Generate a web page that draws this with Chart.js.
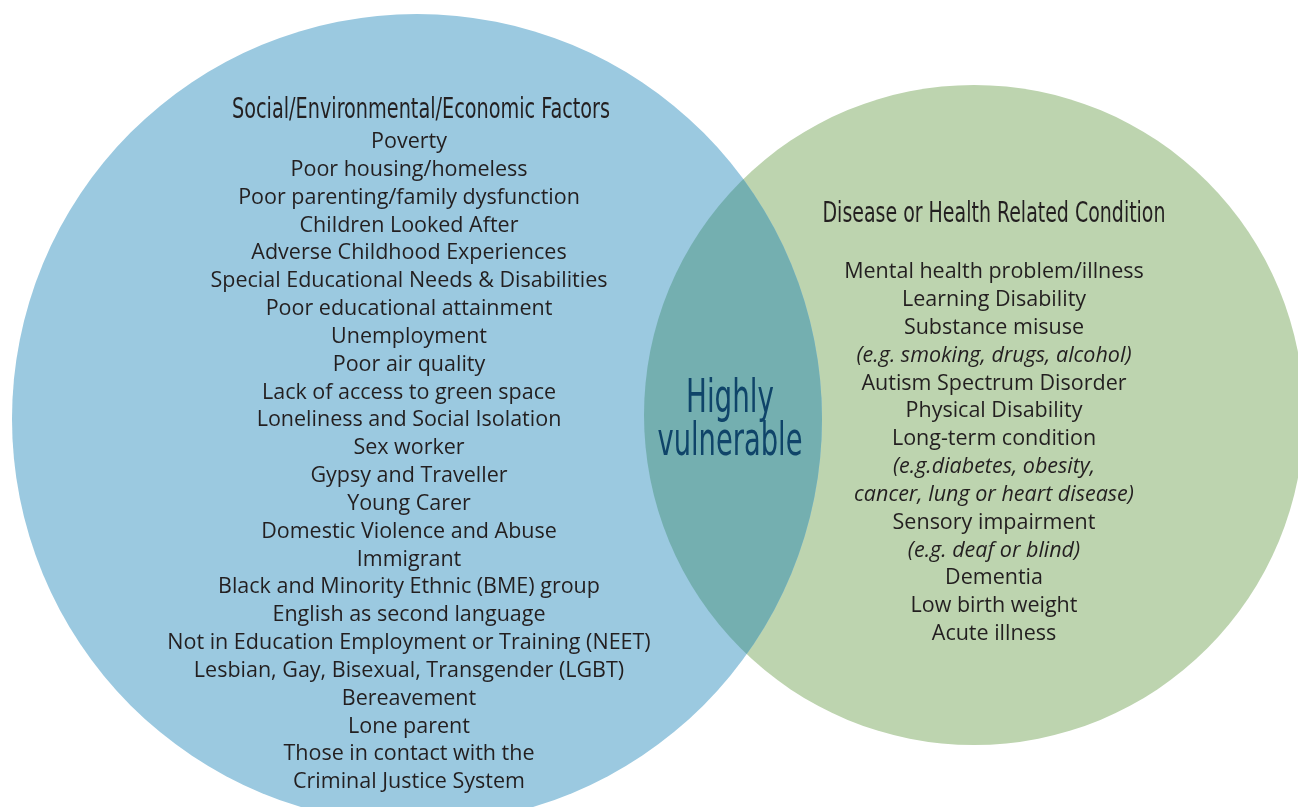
<!DOCTYPE html>
<html>
<head>
<meta charset="utf-8">
<script src="https://cdn.jsdelivr.net/npm/chart.js@4"></script>
<style>
  html, body { margin: 0; padding: 0; background: #fff; }
  #wrap { width: 1298px; height: 807px; position: relative; }
</style>
</head>
<body>
<div id="wrap"><canvas id="venn"></canvas></div>
<script>
// circles: centre and radius in picture units
const circleNames = ["Social/Environmental/Economic Factors", "Disease or Health Related Condition"]
const circleX = [417, 974]
const circleY = [419, 415]
const circleR = [405, 330]
const overlapLabel = ["Highly", "vulnerable"]

const socialFactors = [
    "Poverty",
    "Poor housing/homeless",
    "Poor parenting/family dysfunction",
    "Children Looked After",
    "Adverse Childhood Experiences",
    "Special Educational Needs & Disabilities",
    "Poor educational attainment",
    "Unemployment",
    "Poor air quality",
    "Lack of access to green space",
    "Loneliness and Social Isolation",
    "Sex worker",
    "Gypsy and Traveller",
    "Young Carer",
    "Domestic Violence and Abuse",
    "Immigrant",
    "Black and Minority Ethnic (BME) group",
    "English as second language",
    "Not in Education Employment or Training (NEET)",
    "Lesbian, Gay, Bisexual, Transgender (LGBT)",
    "Bereavement",
    "Lone parent",
    "Those in contact with the",
    "Criminal Justice System"
]

const healthConditions = [
    "Mental health problem/illness",
    "Learning Disability",
    "Substance misuse",
    "(e.g. smoking, drugs, alcohol)",
    "Autism Spectrum Disorder",
    "Physical Disability",
    "Long-term condition",
    "(e.g.diabetes, obesity,",
    "cancer, lung or heart disease)",
    "Sensory impairment",
    "(e.g. deaf or blind)",
    "Dementia",
    "Low birth weight",
    "Acute illness"
]
const healthItalic = [false, false, false, true, false, false, false, true, true, false, true, false, false, false]

const blue = "#9bc9e0", green = "#bdd4af", teal = "#74afb0"
const ink = "#231f20", navy = "#0f4469"
const titleFont = "500 28px 'Liberation Sans Narrow', 'DejaVu Sans Condensed', Roboto, sans-serif"
const bodyFont = "21.5px 'Open Sans', 'Noto Sans', sans-serif"
const italicFont = "italic 21.5px 'Open Sans', 'Noto Sans', sans-serif"
const bigFont = "46px 'Liberation Sans Narrow', 'DejaVu Sans Condensed', Roboto, sans-serif"

function px(chart, x, y){
    return [chart.scales.x.getPixelForValue(x), chart.scales.y.getPixelForValue(y)]
}

const overlapPlugin = {
    id: "overlap",
    afterDatasetsDraw(chart){
        const ctx = chart.ctx
        const a = chart.getDatasetMeta(0).data[0]
        const b = chart.getDatasetMeta(1).data[0]
        ctx.save()
        ctx.beginPath()
        ctx.arc(a.x, a.y, a.options.radius, 0, Math.PI * 2)
        ctx.clip()
        ctx.beginPath()
        ctx.arc(b.x, b.y, b.options.radius, 0, Math.PI * 2)
        ctx.fillStyle = teal
        ctx.fill()
        ctx.restore()
    }
}

const textPlugin = {
    id: "vennText",
    afterDraw(chart){
        const ctx = chart.ctx
        ctx.save()
        ctx.textAlign = "center"
        ctx.textBaseline = "middle"
        ctx.fillStyle = ink

        // left circle
        let [x, y] = px(chart, 421, 111)
        ctx.font = titleFont
        ctx.fillText(circleNames[0], x, y, 378)
        ctx.font = bodyFont
        socialFactors.forEach((s, i)=>{
            const p = px(chart, 409, 142 + i * 27.83)
            ctx.fillText(s, p[0], p[1])
        })

        // right circle
        ;[x, y] = px(chart, 994, 215)
        ctx.font = titleFont
        ctx.fillText(circleNames[1], x, y, 343)
        healthConditions.forEach((s, i)=>{
            ctx.font = healthItalic[i] ? italicFont : bodyFont
            const p = px(chart, 994, 272 + i * 27.85)
            ctx.fillText(s, p[0], p[1])
        })

        // overlap
        ctx.fillStyle = navy
        ctx.font = bigFont
        overlapLabel.forEach((s, i)=>{
            const p = px(chart, 730, 400 + i * 43)
            ctx.fillText(s, p[0], p[1], i ? 145 : 88)
        })
        ctx.restore()
    }
}

const venn = new Chart(document.querySelector("#venn"), {
    type: "bubble",
    data: {
        datasets: circleNames.map((name, i)=>{
            return {
                label: name,
                data: [{x: circleX[i], y: circleY[i], r: circleR[i]}],
                backgroundColor: i ? green : blue,
                borderWidth: 0,
                hoverBorderWidth: 0,
                clip: false
            }
        })
    },
    options: {
        responsive: true,
        maintainAspectRatio: false,
        animation: false,
        events: [],
        layout: { padding: 0, autoPadding: false },
        scales: {
            x: { type: "linear", min: 0, max: 1298, display: false },
            y: { type: "linear", min: 0, max: 807, reverse: true, display: false }
        },
        plugins: {
            legend: { display: false },
            tooltip: { enabled: false }
        }
    },
    plugins: [overlapPlugin, textPlugin]
})
</script>
</body>
</html>
